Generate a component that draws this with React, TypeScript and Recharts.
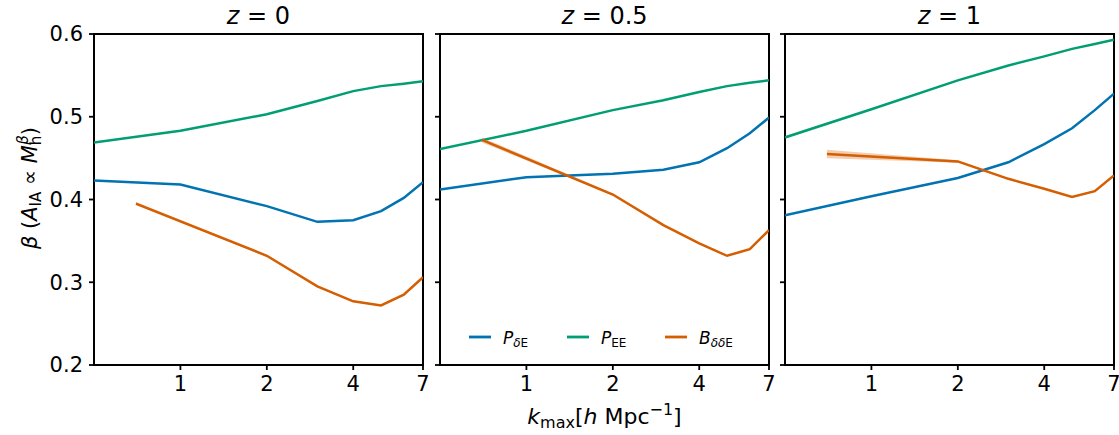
import React from 'react';
import { ComposedChart, Line, Area, XAxis, YAxis, ReferenceArea, Label } from 'recharts';

// k_max grid for the power-spectrum fits and for the bispectrum fits
const kPower = [0.5, 1, 2, 3, 4, 5, 6, 7];
const kBispectrum = [0.7, 2, 3, 4, 5, 6, 7];

const xTicks = [1, 2, 4, 7];
const yTicks = [0.2, 0.3, 0.4, 0.5, 0.6];
const redshiftLabels = ['0', '0.5', '1'];

// z = 0
const pdE_z0 = [0.423, 0.418, 0.392, 0.373, 0.375, 0.386, 0.402, 0.421];
const pEE_z0 = [0.469, 0.483, 0.503, 0.519, 0.531, 0.537, 0.540, 0.543];
const bddE_z0 = [0.395, 0.332, 0.295, 0.277, 0.272, 0.285, 0.306];
const bddEErr_z0 = [0.002, 0.0012, 0.001, 0.001, 0.001, 0.001, 0.001];

// z = 0.5
const pdE_z05 = [0.412, 0.427, 0.431, 0.436, 0.445, 0.462, 0.480, 0.499];
const pEE_z05 = [0.461, 0.483, 0.508, 0.520, 0.530, 0.537, 0.541, 0.544];
const bddE_z05 = [0.472, 0.406, 0.369, 0.347, 0.332, 0.340, 0.363];
const bddEErr_z05 = [0.003, 0.0012, 0.001, 0.001, 0.001, 0.001, 0.001];

// z = 1
const pdE_z1 = [0.381, 0.404, 0.426, 0.445, 0.467, 0.486, 0.508, 0.528];
const pEE_z1 = [0.475, 0.509, 0.544, 0.562, 0.573, 0.582, 0.588, 0.593];
const bddE_z1 = [0.455, 0.446, 0.425, 0.413, 0.403, 0.410, 0.429];
const bddEErr_z1 = [0.005, 0.0015, 0.001, 0.001, 0.001, 0.001, 0.001];

const legendSymbols = ['P', 'P', 'B'];
const legendSubscripts = ['δE', 'EE', 'δδE'];

const COLOR_PDE = '#0173b2';
const COLOR_PEE = '#029e73';
const COLOR_BDDE = '#d55e00';
const SERIES_COLORS = [COLOR_PDE, COLOR_PEE, COLOR_BDDE];

const FONT = '"DejaVu Sans", Verdana, sans-serif';

const panels = [
  { pdE: pdE_z0, pEE: pEE_z0, b: bddE_z0, bErr: bddEErr_z0 },
  { pdE: pdE_z05, pEE: pEE_z05, b: bddE_z05, bErr: bddEErr_z05 },
  { pdE: pdE_z1, pEE: pEE_z1, b: bddE_z1, bErr: bddEErr_z1 },
];

type Row = { k: number; pdE?: number; pEE?: number; b?: number; band?: [number, number] };

function buildRows(p: typeof panels[number]): Row[] {
  const ks = Array.from(new Set([...kPower, ...kBispectrum])).sort((a, b) => a - b);
  return ks.map((k) => {
    const row: Row = { k };
    const ip = kPower.indexOf(k);
    if (ip >= 0) {
      row.pdE = p.pdE[ip];
      row.pEE = p.pEE[ip];
    }
    const ib = kBispectrum.indexOf(k);
    if (ib >= 0) {
      row.b = p.b[ib];
      row.band = [p.b[ib] - p.bErr[ib], p.b[ib] + p.bErr[ib]];
    }
    return row;
  });
}

// plot-area geometry
const PLOT_TOP = 34;
const PLOT_BOTTOM = 365;
const PLOT_WIDTH = 329;
const PLOT_LEFTS = [94, 440, 785];
const CHART_HEIGHT = 435;
const RIGHT_PAD = 14;

const TICK_FONT = 21;
const LINE_WIDTH = 2.5;

function Title({ viewBox, z }: any) {
  const cx = viewBox.x + viewBox.width / 2;
  return (
    <text x={cx} y={viewBox.y - 10} textAnchor="middle" fontFamily={FONT} fontSize={24} fill="#000">
      <tspan fontStyle="italic">z</tspan>
      <tspan> = {z}</tspan>
    </text>
  );
}

function PanelLegend({ viewBox }: any) {
  const y = viewBox.y + viewBox.height - 28;
  const x0 = viewBox.x + 29;
  return (
    <g>
      {legendSymbols.map((sym, i) => {
        const x = x0 + i * 98;
        return (
          <g key={i}>
            <line x1={x} x2={x + 22} y1={y} y2={y} stroke={SERIES_COLORS[i]} strokeWidth={2.8} />
            <text x={x + 34} y={y + 7} fontFamily={FONT} fontSize={17} fill="#000">
              <tspan fontStyle="italic">{sym}</tspan>
              <tspan fontSize={12} dy={3}>
                {legendSubscripts[i].split('').map((ch, j) => (
                  <tspan key={j} fontStyle={ch === 'δ' ? 'italic' : 'normal'}>{ch}</tspan>
                ))}
              </tspan>
            </text>
          </g>
        );
      })}
    </g>
  );
}

function YLabel() {
  const cx = 37;
  const cy = 188;
  return (
    <text
      transform={`translate(${cx},${cy}) rotate(-90)`}
      textAnchor="middle"
      fontFamily={FONT}
      fontSize={21}
      fill="#000"
    >
      <tspan fontStyle="italic">β</tspan>
      <tspan> (</tspan>
      <tspan fontStyle="italic">A</tspan>
      <tspan fontSize={15} dy={4}>IA</tspan>
      <tspan dy={-4}> ∝ </tspan>
      <tspan fontStyle="italic">M</tspan>
      <tspan fontSize={15} dy={4}>h</tspan>
      <tspan fontSize={15} fontStyle="italic" dx={-9} dy={-13}>β</tspan>
      <tspan dy={9}>)</tspan>
    </text>
  );
}

function XLabel({ viewBox }: any) {
  const cx = viewBox.x + viewBox.width / 2;
  return (
    <text x={cx} y={424} textAnchor="middle" fontFamily={FONT} fontSize={22} fill="#000">
      <tspan fontStyle="italic">k</tspan>
      <tspan fontSize={16} dy={4}>max</tspan>
      <tspan dy={-4}>[</tspan>
      <tspan fontStyle="italic">h</tspan>
      <tspan> Mpc</tspan>
      <tspan fontSize={16} dy={-9}>−1</tspan>
      <tspan dy={9}>]</tspan>
    </text>
  );
}

function Panel({ index }: { index: number }) {
  const rows = buildRows(panels[index]);
  const yAxisWidth = index === 0 ? PLOT_LEFTS[0] : 20;
  const chartLeft = PLOT_LEFTS[index] - yAxisWidth;
  const width = yAxisWidth + PLOT_WIDTH + RIGHT_PAD;
  const xAxisHeight = CHART_HEIGHT - PLOT_BOTTOM;
  return (
    <div style={{ position: 'absolute', left: chartLeft, top: 0 }}>
      <ComposedChart
        width={width}
        height={CHART_HEIGHT}
        data={rows}
        margin={{ top: PLOT_TOP, right: RIGHT_PAD, bottom: 0, left: 0 }}
      >
        <XAxis
          dataKey="k"
          type="number"
          scale="log"
          domain={[0.5, 7]}
          ticks={xTicks}
          allowDataOverflow
          height={xAxisHeight}
          axisLine={false}
          tickLine={{ stroke: '#000', strokeWidth: 1.8 }}
          tickSize={5}
          tickMargin={6}
          tick={{ fontFamily: FONT, fontSize: TICK_FONT, fill: '#000' }}
          interval={0}
        >
          {index === 1 ? <Label content={(p: any) => <XLabel viewBox={p.viewBox} />} /> : null}
        </XAxis>
        <YAxis
          type="number"
          domain={[0.2, 0.6]}
          ticks={yTicks}
          allowDataOverflow
          width={yAxisWidth}
          axisLine={false}
          tickLine={{ stroke: '#000', strokeWidth: 1.8 }}
          tickSize={5}
          tickMargin={6}
          tickFormatter={(v: number) => (index === 0 ? v.toFixed(1) : '')}
          tick={{ fontFamily: FONT, fontSize: TICK_FONT, fill: '#000' }}
          interval={0}
        >
          {index === 0 ? <Label content={() => <YLabel />} /> : null}
        </YAxis>
        <Area
          dataKey="band"
          type="linear"
          stroke="none"
          fill={COLOR_BDDE}
          fillOpacity={0.3}
          connectNulls
          isAnimationActive={false}
          legendType="none"
        />
        <Line dataKey="pdE" type="linear" stroke={COLOR_PDE} strokeWidth={LINE_WIDTH} dot={false} connectNulls isAnimationActive={false} />
        <Line dataKey="pEE" type="linear" stroke={COLOR_PEE} strokeWidth={LINE_WIDTH} dot={false} connectNulls isAnimationActive={false} />
        <Line dataKey="b" type="linear" stroke={COLOR_BDDE} strokeWidth={LINE_WIDTH} dot={false} connectNulls isAnimationActive={false} />
        <ReferenceArea
          x1={0.5}
          x2={7}
          y1={0.2}
          y2={0.6}
          fill="none"
          stroke="#000"
          strokeWidth={2}
          ifOverflow="visible"
          label={(p: any) => (
            <g>
              <Title viewBox={p.viewBox} z={redshiftLabels[index]} />
              {index === 1 ? <PanelLegend viewBox={p.viewBox} /> : null}
            </g>
          )}
        />
      </ComposedChart>
    </div>
  );
}

export default function App() {
  return (
    <div style={{ position: 'absolute', left: 0, top: 0, width: 1119, height: 435, background: '#fff' }}>
      {[0, 1, 2].map((i) => (
        <Panel key={i} index={i} />
      ))}
    </div>
  );
}
